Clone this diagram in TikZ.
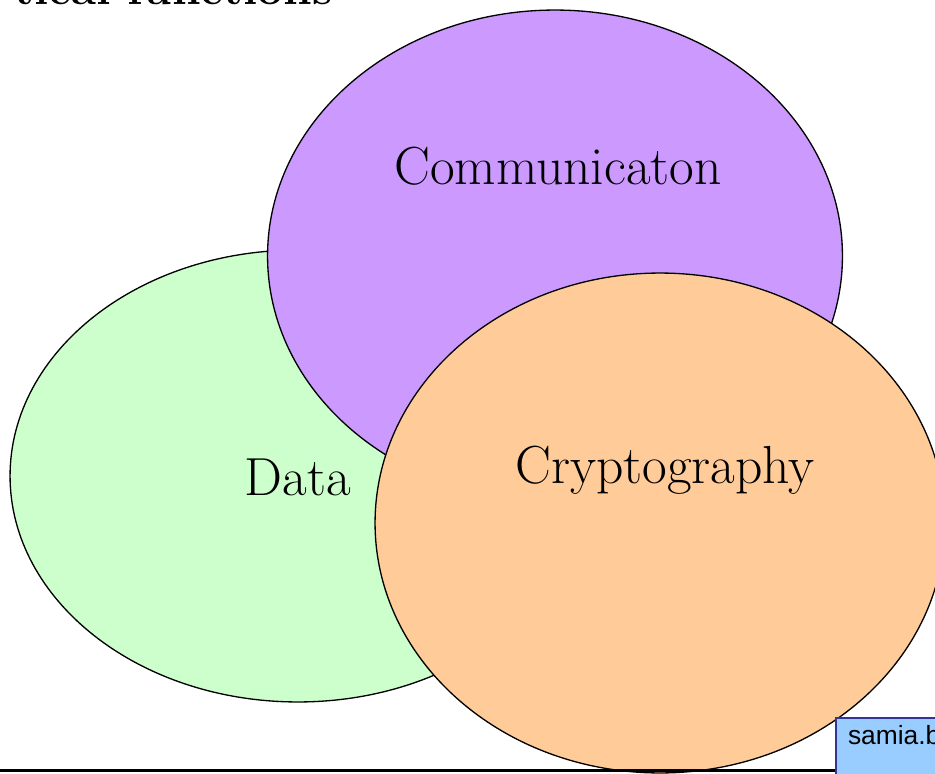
\documentclass[tikz,border=0pt]{standalone}
\usepackage{fontspec}
\newfontfamily\notesans{Liberation Sans}
\usetikzlibrary{shapes.geometric}
\definecolor{datagreen}{HTML}{CCFFCC}
\definecolor{commpurple}{HTML}{CC99FF}
\definecolor{cryptorange}{HTML}{FFCC99}
\definecolor{notefill}{HTML}{99CCFF}
\definecolor{noteedge}{HTML}{333399}
\tikzset{
  blob/.style={ellipse,draw=black,line width=0.75pt},
  blobtext/.style={font=\fontsize{30.5}{36}\selectfont}
}
\begin{document}
\begin{tikzpicture}[x=0.02cm,y=-0.02cm]
      \clip (0,0) rectangle (935,773);
      % the three areas
      \node[blob,fill=datagreen,minimum width=11.52cm,minimum height=9.04cm] (data) at (298,476) {};
      \node[blob,fill=commpurple,minimum width=11.5cm,minimum height=9.84cm] (comm) at (555,256) {};
      \node[blob,fill=cryptorange,minimum width=11.4cm,minimum height=10cm] (crypto) at (660,523) {};
      \node[blobtext] (commlabel) at (558,166) {Communicaton};
      \node[blobtext] (datalabel) at (298,477) {Data};
      \node[blobtext] (cryptolabel) at (665,470) {Cryptography};
      % title, cut at the top
      \node[anchor=base west,inner sep=0pt,font=\fontsize{26}{30}\selectfont\bfseries] (title) at (14,5) {tical functions};
      % footer
      \draw[line width=1.7pt] (0,770) -- (940,770);
      \node[anchor=north west,draw=noteedge,fill=notefill,line width=1.2pt,
            minimum width=3cm,minimum height=1.2cm,text width=2.6cm,align=left,
            inner xsep=0.24cm,inner ysep=0.12cm,font=\notesans\fontsize{15}{17}\selectfont] (note) at (835,717) {samia.b\\[-2pt]\phantom{x}};
\end{tikzpicture}
\end{document}
